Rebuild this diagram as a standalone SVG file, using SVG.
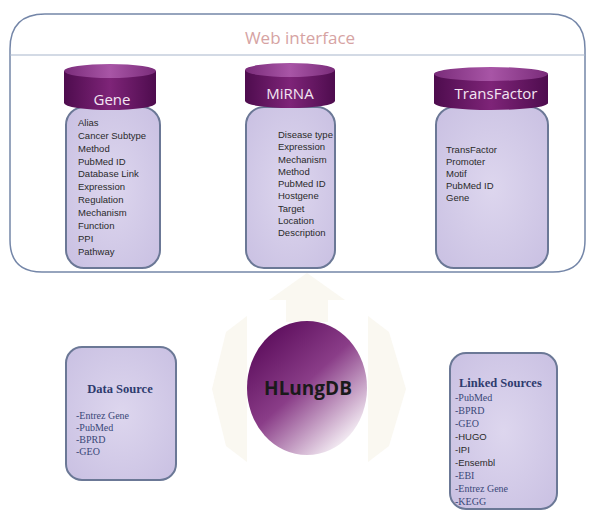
<svg xmlns="http://www.w3.org/2000/svg" width="590" height="517" viewBox="0 0 590 517">
<defs>
<linearGradient id="cyl" x1="0" y1="0" x2="1" y2="0">
<stop offset="0" stop-color="#4e0c4e"/>
<stop offset="0.5" stop-color="#7e2478"/>
<stop offset="1" stop-color="#4e0c4e"/>
</linearGradient>
<linearGradient id="cyltop" x1="0" y1="0" x2="1" y2="0">
<stop offset="0" stop-color="#7a2c7a"/>
<stop offset="0.5" stop-color="#a855a6"/>
<stop offset="1" stop-color="#7a2c7a"/>
</linearGradient>
<radialGradient id="box" cx="0.5" cy="0.5" r="0.7">
<stop offset="0" stop-color="#ddd6ee"/>
<stop offset="1" stop-color="#c9c0e2"/>
</radialGradient>
<linearGradient id="ball" x1="0.15" y1="0.1" x2="0.85" y2="0.95">
<stop offset="0" stop-color="#5e0f5e"/>
<stop offset="0.45" stop-color="#8a3d88"/>
<stop offset="1" stop-color="#ffffff"/>
</linearGradient>
</defs>
<style>
.box{fill:url(#box);stroke:#6b7896;stroke-width:2}
.cyl{fill:url(#cyl)}
.ctop{fill:url(#cyltop)}
.ct{font-family:"Open Sans","DejaVu Sans",sans-serif;font-size:15px;fill:#f3e6f3;text-anchor:middle}
.it{font-family:"Liberation Sans",Arial,sans-serif;font-size:9.5px;fill:#2a2a2a}
.st{font-family:"Liberation Serif","Noto Sans CJK SC",serif;font-size:10px;fill:#3a4878}
.sh{font-family:"Liberation Serif","Noto Sans CJK SC",serif;font-size:12.5px;font-weight:bold;fill:#2e3b6e}
.arrow{fill:#faf8f1}
</style>
<rect width="590" height="517" fill="#ffffff"/>

<g id="connectors">
<path class="arrow" d="M307,273 L345,300 L328,300 L328,322 L286,322 L286,300 L269,300 Z"/>
<path class="arrow" d="M247,316 L247,462 L226,446 L212,389 L226,332 Z"/>
<path class="arrow" d="M368,316 L389,332 L406,389 L389,446 L368,462 Z"/>
</g>

<g id="web-interface">
<path d="M45,14 L550,14 Q585,14 585,49 L585,240 Q585,272 553,272 L42,272 Q10,272 10,240 L10,49 Q10,14 45,14 Z" fill="none" stroke="#7486a8" stroke-width="1.5"/>
<line x1="10" y1="55" x2="585" y2="55" stroke="#a8b6cc" stroke-width="1.2"/>
<text x="300" y="44" font-family="Open Sans,DejaVu Sans,sans-serif" font-size="17" fill="#d6a3a3" text-anchor="middle">Web interface</text>
</g>

<g id="gene">
<rect class="box" x="66" y="107" width="94" height="161" rx="18"/>
<path class="cyl" d="M64,71 L64,103 A46,7 0 0 0 156,103 L156,71 Z"/>
<ellipse class="ctop" cx="110" cy="71" rx="46" ry="7"/>
<text class="ct" x="112" y="105">Gene</text>
<text class="it" x="78" y="126">Alias</text>
<text class="it" x="78" y="139">Cancer Subtype</text>
<text class="it" x="78" y="152">Method</text>
<text class="it" x="78" y="165">PubMed ID</text>
<text class="it" x="78" y="177">Database Link</text>
<text class="it" x="78" y="190">Expression</text>
<text class="it" x="78" y="203">Regulation</text>
<text class="it" x="78" y="216">Mechanism</text>
<text class="it" x="78" y="229">Function</text>
<text class="it" x="78" y="242">PPI</text>
<text class="it" x="78" y="255">Pathway</text>
</g>

<g id="mirna">
<rect class="box" x="246" y="107" width="89" height="161" rx="18"/>
<path class="cyl" d="M245,70 L245,101 A45,7 0 0 0 335,101 L335,70 Z"/>
<ellipse class="ctop" cx="290" cy="70" rx="45" ry="7"/>
<text class="ct" x="290" y="99">MiRNA</text>
<text class="it" x="278" y="138">Disease type</text>
<text class="it" x="278" y="150">Expression</text>
<text class="it" x="278" y="163">Mechanism</text>
<text class="it" x="278" y="175">Method</text>
<text class="it" x="278" y="187">PubMed ID</text>
<text class="it" x="278" y="199">Hostgene</text>
<text class="it" x="278" y="212">Target</text>
<text class="it" x="278" y="224">Location</text>
<text class="it" x="278" y="236">Description</text>
</g>

<g id="transfactor">
<rect class="box" x="436" y="107" width="112" height="161" rx="18"/>
<path class="cyl" d="M434,74 L434,103 A57,7 0 0 0 548,103 L548,74 Z"/>
<ellipse class="ctop" cx="491" cy="74" rx="57" ry="7"/>
<text class="ct" x="496" y="99">TransFactor</text>
<text class="it" x="446" y="153">TransFactor</text>
<text class="it" x="446" y="165">Promoter</text>
<text class="it" x="446" y="177">Motif</text>
<text class="it" x="446" y="189">PubMed ID</text>
<text class="it" x="446" y="201">Gene</text>
</g>

<g id="data-source">
<rect class="box" x="66" y="347" width="110" height="133" rx="16"/>
<text class="sh" x="120" y="393" text-anchor="middle">Data Source</text>
<text class="st" x="76" y="419">-Entrez Gene</text>
<text class="st" x="76" y="431">-PubMed</text>
<text class="st" x="76" y="443">-BPRD</text>
<text class="st" x="76" y="455">-GEO</text>
</g>

<g id="hlungdb">
<ellipse cx="307" cy="388" rx="60" ry="67" fill="url(#ball)"/>
<text x="308" y="395" font-family="Open Sans,DejaVu Sans,sans-serif" font-size="19" font-weight="bold" fill="#1a1a1a" text-anchor="middle">HLungDB</text>
</g>

<g id="linked-sources">
<rect class="box" x="450" y="353" width="107" height="156" rx="16"/>
<text class="sh" x="459" y="387">Linked Sources</text>
<text class="st" x="455" y="401">-PubMed</text>
<text class="st" x="455" y="414">-BPRD</text>
<text class="st" x="455" y="427">-GEO</text>
<text class="it" x="455" y="440">-HUGO</text>
<text class="it" x="455" y="453">-IPI</text>
<text class="it" x="455" y="466">-Ensembl</text>
<text class="st" x="455" y="479">-EBI</text>
<text class="st" x="455" y="492">-Entrez Gene</text>
<text class="st" x="455" y="505">-KEGG</text>
</g>
</svg>
